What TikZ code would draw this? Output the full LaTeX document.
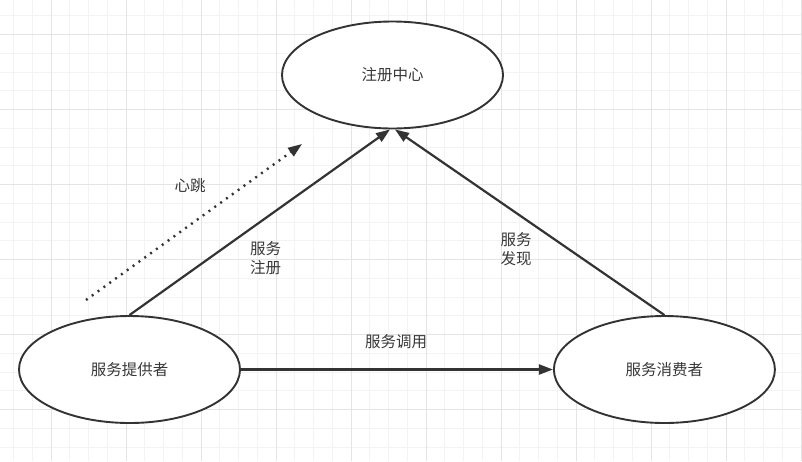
\documentclass[tikz,border=0pt]{standalone}
\usepackage{fontspec}
\setmainfont{Noto Sans CJK SC}
\usepackage{xcolor}
\usetikzlibrary{shapes.geometric,arrows.meta,positioning}

\definecolor{linegray}{HTML}{333333}
\definecolor{textgray}{HTML}{383838}
\definecolor{minorgrid}{HTML}{F3F3F3}
\definecolor{majorgrid}{HTML}{E4E4E4}

\begin{document}
\begin{tikzpicture}[
		x=1pt, y=-1pt,
		role/.style={ellipse, draw=linegray, line width=1.9pt, fill=white, minimum width=221pt, minimum height=107pt, inner sep=0pt, font=\fontsize{15.5}{19}\selectfont, text=textgray},
		lab/.style={font=\fontsize{15.5}{19}\selectfont, text=textgray, align=center},
		arrow/.style={-{Triangle[length=14pt,width=10pt]}, draw=linegray, line width=2.2pt},
		beat/.style={arrow, line width=2.4pt, dash pattern=on 2pt off 5.2pt}
		]
		
		% Canvas and grid
		\useasboundingbox (0,0) rectangle (802,461);
		\fill[white] (0,0) rectangle (802,461);
		\foreach \k in {0,...,42} {
			\draw[minorgrid, line width=1pt] (13.5+18.75*\k,0) -- (13.5+18.75*\k,461);
		}
		\foreach \k in {0,...,24} {
			\draw[minorgrid, line width=1pt] (0,15.75+18.75*\k) -- (802,15.75+18.75*\k);
		}
		\foreach \k in {0,...,10} {
			\draw[majorgrid, line width=1pt] (51+75*\k,0) -- (51+75*\k,461);
		}
		\foreach \k in {0,...,5} {
			\draw[majorgrid, line width=1pt] (0,34.25+75*\k) -- (802,34.25+75*\k);
		}
		
		% Roles
		\node[role] (registry) at (392.5,75) {注册中心};
		\node[role] (provider) at (129.5,369.5) {服务提供者};
		\node[role, right=312pt of provider] (consumer) {服务消费者};
		
		% Heartbeat ends
		\coordinate (beatfrom) at (86,300);
		\coordinate (beatto) at (302,144);
		
		% Arrows
		\draw[arrow] (provider.north) -- ([xshift=-2.5pt]registry.south);
		\draw[arrow] (consumer.north) -- ([xshift=2.5pt]registry.south);
		\draw[arrow] (provider.east) -- (consumer.west);
		\draw[beat] (beatfrom) -- (beatto);
		
		% Labels
		\node[lab] (beatlab) at (190,186) {心跳};
		\node[lab] (reglab) at (265.5,258) {服务\\注册};
		\node[lab] (findlab) at (516,249) {服务\\发现};
		\node[lab] (calllab) at (396,341.5) {服务调用};
		
	\end{tikzpicture}
\end{document}
